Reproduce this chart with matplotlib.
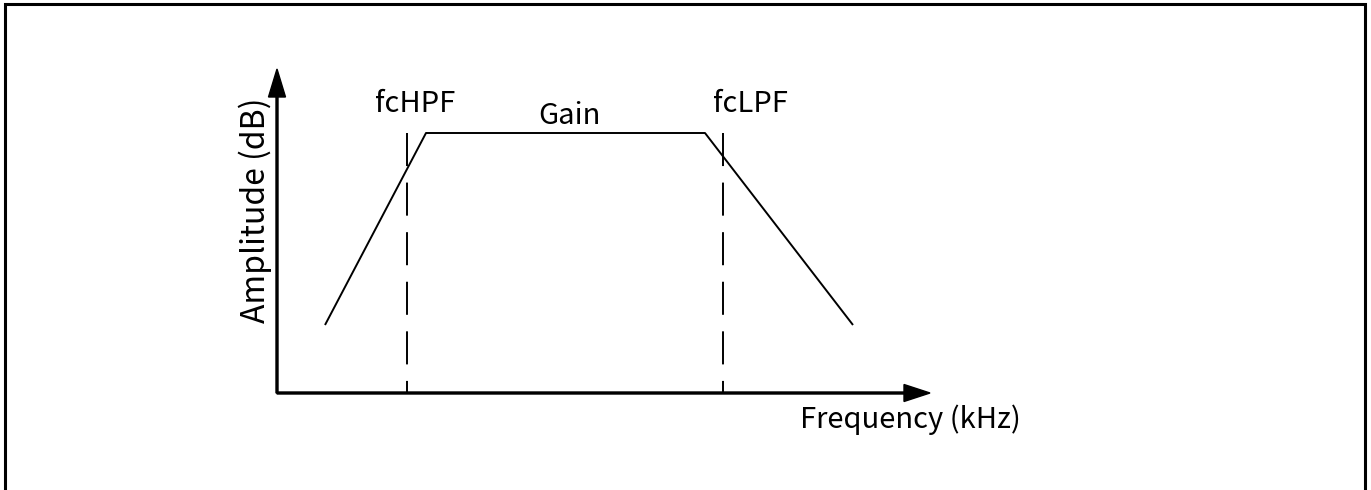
import matplotlib
matplotlib.use('Agg')
import matplotlib.pyplot as plt
from matplotlib.patches import Rectangle

plt.rcParams['font.family'] = ['Noto Sans CJK JP', 'DejaVu Sans']

# filter response (arbitrary units)
freq = [0.48, 1.49, 4.28, 5.76]
amp = [0.68, 2.60, 2.60, 0.68]
gain = 2.60
fc_hpf = 1.30
fc_lpf = 4.46
x_max = 6.53
y_max = 3.24

fig = plt.figure(figsize=(13.71, 4.90), dpi=100)
ax = fig.add_axes([0, 0, 1, 1])
ax.set_xlim(-2.77, 10.94)
ax.set_ylim(-0.97, 3.93)
ax.axis('off')

# axes with arrow heads
ax.arrow(0, 0, x_max, 0, width=0.02, head_width=0.17, head_length=0.26,
         length_includes_head=True, color='black')
ax.arrow(0, 0, 0, y_max, width=0.02, head_width=0.17, head_length=0.28,
         length_includes_head=True, color='black')

# response curve
ax.plot(freq, amp, color='black', lw=1.4, solid_capstyle='butt')

# cutoff markers
for fc in [fc_hpf, fc_lpf]:
    ax.plot([fc, fc], [gain, 0], color='black', lw=1.4,
            linestyle=(0, (17, 8.5)), dash_capstyle='butt')

fs = 21
ax.text(0.98, 2.81, 'fcHPF', fontsize=fs, ha='left', va='baseline')
ax.text(2.92, 2.69, 'Gain', fontsize=fs, ha='center', va='baseline')
ax.text(4.36, 2.81, 'fcLPF', fontsize=fs, ha='left', va='baseline')
ax.text(5.23, -0.35, 'Frequency (kHz)', fontsize=fs, ha='left', va='baseline')
ax.text(-0.12, 1.83, 'Amplitude (dB)', fontsize=23, ha='center', va='baseline',
        rotation=90, rotation_mode='anchor')

# frame around the picture (open at the bottom edge)
fig.patches.append(Rectangle((5 / 1371, -0.02), 1360 / 1371, 1.02 - 4 / 490,
                             transform=fig.transFigure, fill=False,
                             edgecolor='black', lw=2.2))

fig.savefig('out.png', dpi=100)
